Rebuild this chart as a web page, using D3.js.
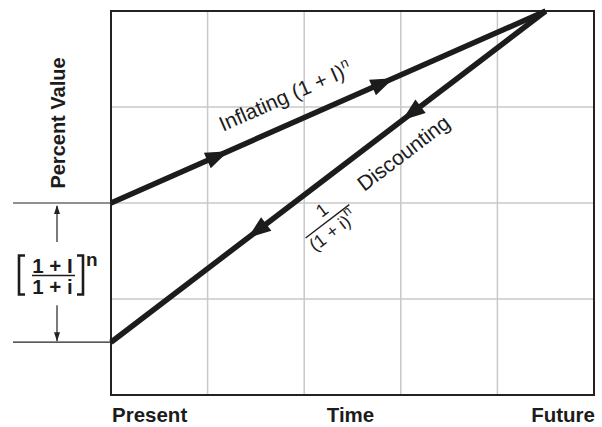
<!DOCTYPE html>
<html>
<head>
<meta charset="utf-8">
<script src="https://cdn.jsdelivr.net/npm/d3@7"></script>
<style>
  body { margin: 0; background: #fff; }
  svg { display: block; font-family: "Liberation Sans", Arial, Helvetica, sans-serif; }
</style>
</head>
<body>
<svg></svg>
<script>
let width = 602;
let height = 427;

// grid (time units across, value units up)
let xGrid = [0, 1, 2, 3, 4, 5];
let yGrid = [0, 1, 2, 3, 4];

// the two lines: [time, value]
let inflating = [[0, 2], [4.5, 4]];
let discounting = [[4.5, 4], [0, 0.55]];

// arrow tips, as fraction along each line (from its first point)
let inflatingArrows = [0.27, 0.65];
let discountingArrows = [0.33, 0.685];

// bottom labels
let timeLabels = ["Present", "Time", "Future"];
let timePos = [0, 2.5, 5];

let svg = d3.select("svg").attr("width", width).attr("height", height);

let xScale = d3.scaleLinear().domain([0, 5]).range([111, 594]);
let yScale = d3.scaleLinear().domain([0, 4]).range([395, 11]);

// gridlines
svg.append("g")
  .selectAll("line")
  .data(xGrid.slice(1, -1))
  .enter()
  .append("line")
  .attr("x1", (d) => xScale(d))
  .attr("x2", (d) => xScale(d))
  .attr("y1", yScale(0))
  .attr("y2", yScale(4))
  .attr("stroke", "#c8c8c8")
  .attr("stroke-width", 1.5);

svg.append("g")
  .selectAll("line")
  .data(yGrid.slice(1, -1))
  .enter()
  .append("line")
  .attr("x1", xScale(0))
  .attr("x2", xScale(5))
  .attr("y1", (d) => yScale(d))
  .attr("y2", (d) => yScale(d))
  .attr("stroke", "#c8c8c8")
  .attr("stroke-width", 1.5);

// frame
svg.append("rect")
  .attr("x", xScale(0))
  .attr("y", yScale(4))
  .attr("width", xScale(5) - xScale(0))
  .attr("height", yScale(0) - yScale(4))
  .attr("fill", "none")
  .attr("stroke", "#222")
  .attr("stroke-width", 2);

// thick lines
let line = d3.line()
  .x((d) => xScale(d[0]))
  .y((d) => yScale(d[1]));

[inflating, discounting].forEach((pts) => {
  svg.append("path")
    .datum(pts)
    .attr("d", line)
    .attr("fill", "none")
    .attr("stroke", "#1c1c1c")
    .attr("stroke-width", 5.5)
    .attr("stroke-linecap", "butt");
});

// arrowheads placed along a line
let drawArrows = (pts, fracs) => {
  let x0 = xScale(pts[0][0]), y0 = yScale(pts[0][1]);
  let x1 = xScale(pts[1][0]), y1 = yScale(pts[1][1]);
  let ang = Math.atan2(y1 - y0, x1 - x0) * 180 / Math.PI;
  svg.append("g")
    .selectAll("path")
    .data(fracs)
    .enter()
    .append("path")
    .attr("d", "M0,0 L-23,-8.5 L-23,8.5 Z")
    .attr("fill", "#1c1c1c")
    .attr("transform", (f) =>
      "translate(" + (x0 + (x1 - x0) * f) + "," + (y0 + (y1 - y0) * f) + ") rotate(" + ang + ")");
};
drawArrows(inflating, inflatingArrows);
drawArrows(discounting, discountingArrows);

// labels along lines
let along = (pts, f) => {
  let x0 = xScale(pts[0][0]), y0 = yScale(pts[0][1]);
  let x1 = xScale(pts[1][0]), y1 = yScale(pts[1][1]);
  let ang = Math.atan2(y1 - y0, x1 - x0) * 180 / Math.PI;
  return { x: x0 + (x1 - x0) * f, y: y0 + (y1 - y0) * f, ang: ang };
};

let p = along(inflating, 0.276);
let inf = svg.append("text")
  .attr("transform", "translate(" + p.x + "," + p.y + ") rotate(" + p.ang + ")")
  .attr("y", -20)
  .attr("font-size", 21)
  .attr("fill", "#1c1c1c");
inf.append("tspan").text("Inflating (1 + I)");
inf.append("tspan").attr("dy", -9).attr("font-size", 14).text("n");

// discounting label: read left to right, so use reversed direction
let discUp = [discounting[1], discounting[0]];
let q = along(discUp, 0.535);
svg.append("text")
  .attr("transform", "translate(" + q.x + "," + q.y + ") rotate(" + q.ang + ")")
  .attr("y", 34)
  .attr("font-size", 21)
  .attr("fill", "#1c1c1c")
  .text("Discounting");

let r = along(discUp, 0.45);
let frac = svg.append("g")
  .attr("transform", "translate(" + r.x + "," + r.y + ") rotate(" + r.ang + ") translate(0,35)")
  .attr("fill", "#1c1c1c");
frac.append("line")
  .attr("x1", -28).attr("x2", 27)
  .attr("stroke", "#1c1c1c").attr("stroke-width", 1.3);
frac.append("text")
  .attr("x", 2).attr("y", -6)
  .attr("text-anchor", "middle")
  .attr("font-size", 18)
  .text("1");
let den = frac.append("text")
  .attr("x", -29).attr("y", 17)
  .attr("font-size", 18);
den.append("tspan").text("(1 + i)");
den.append("tspan").attr("dy", -9).attr("font-size", 13).text("n");

// left annotation
let leftX = 13;
let arrowX = 57;
[inflating[0][1], discounting[1][1]].forEach((v) => {
  svg.append("line")
    .attr("x1", leftX).attr("x2", xScale(0))
    .attr("y1", yScale(v)).attr("y2", yScale(v))
    .attr("stroke", "#222").attr("stroke-width", 1.2);
});

let yTop = yScale(inflating[0][1]);
let yBot = yScale(discounting[1][1]);
svg.append("line")
  .attr("x1", arrowX).attr("x2", arrowX)
  .attr("y1", yTop + 3).attr("y2", yTop + 39)
  .attr("stroke", "#222").attr("stroke-width", 1.2);
svg.append("line")
  .attr("x1", arrowX).attr("x2", arrowX)
  .attr("y1", yBot - 37).attr("y2", yBot - 1)
  .attr("stroke", "#222").attr("stroke-width", 1.2);
svg.append("path")
  .attr("d", "M" + arrowX + "," + (yTop + 2) + " l-3,9 l6,0 Z")
  .attr("fill", "#222");
svg.append("path")
  .attr("d", "M" + arrowX + "," + (yBot - 1) + " l-3,-9 l6,0 Z")
  .attr("fill", "#222");

// [ (1 + I)/(1 + i) ]^n
let br = svg.append("g").attr("fill", "#1c1c1c");
br.append("path")
  .attr("d", "M25,255.5 L19,255.5 L19,294.5 L25,294.5")
  .attr("fill", "none").attr("stroke", "#1c1c1c").attr("stroke-width", 2.6);
br.append("path")
  .attr("d", "M77,255.5 L83,255.5 L83,294.5 L77,294.5")
  .attr("fill", "none").attr("stroke", "#1c1c1c").attr("stroke-width", 2.6);
br.append("line")
  .attr("x1", 32).attr("x2", 75).attr("y1", 275.5).attr("y2", 275.5)
  .attr("stroke", "#1c1c1c").attr("stroke-width", 1.3);
br.append("text")
  .attr("x", 52.5).attr("y", 272.5)
  .attr("text-anchor", "middle")
  .attr("font-size", 20.5).attr("font-weight", "bold")
  .text("1 + I");
br.append("text")
  .attr("x", 52.5).attr("y", 293.5)
  .attr("text-anchor", "middle")
  .attr("font-size", 20.5).attr("font-weight", "bold")
  .text("1 + i");
br.append("text")
  .attr("x", 86).attr("y", 265.5)
  .attr("font-size", 19).attr("font-weight", "bold")
  .text("n");

// axis titles
svg.append("text")
  .attr("transform", "translate(65," + ((yScale(4) + yScale(2)) / 2 + 16) + ") rotate(-90)")
  .attr("text-anchor", "middle")
  .attr("font-size", 20)
  .attr("font-weight", "bold")
  .attr("fill", "#1c1c1c")
  .text("Percent Value");

svg.append("g")
  .selectAll("text")
  .data(timeLabels)
  .enter()
  .append("text")
  .attr("x", (d, i) => xScale(timePos[i]) + (i === 0 ? 1 : i === 1 ? -2 : 1))
  .attr("y", 422)
  .attr("text-anchor", (d, i) => (i === 0 ? "start" : i === 1 ? "middle" : "end"))
  .attr("font-size", 20.5)
  .attr("font-weight", "bold")
  .attr("fill", "#1c1c1c")
  .text((d) => d);
</script>
</body>
</html>
